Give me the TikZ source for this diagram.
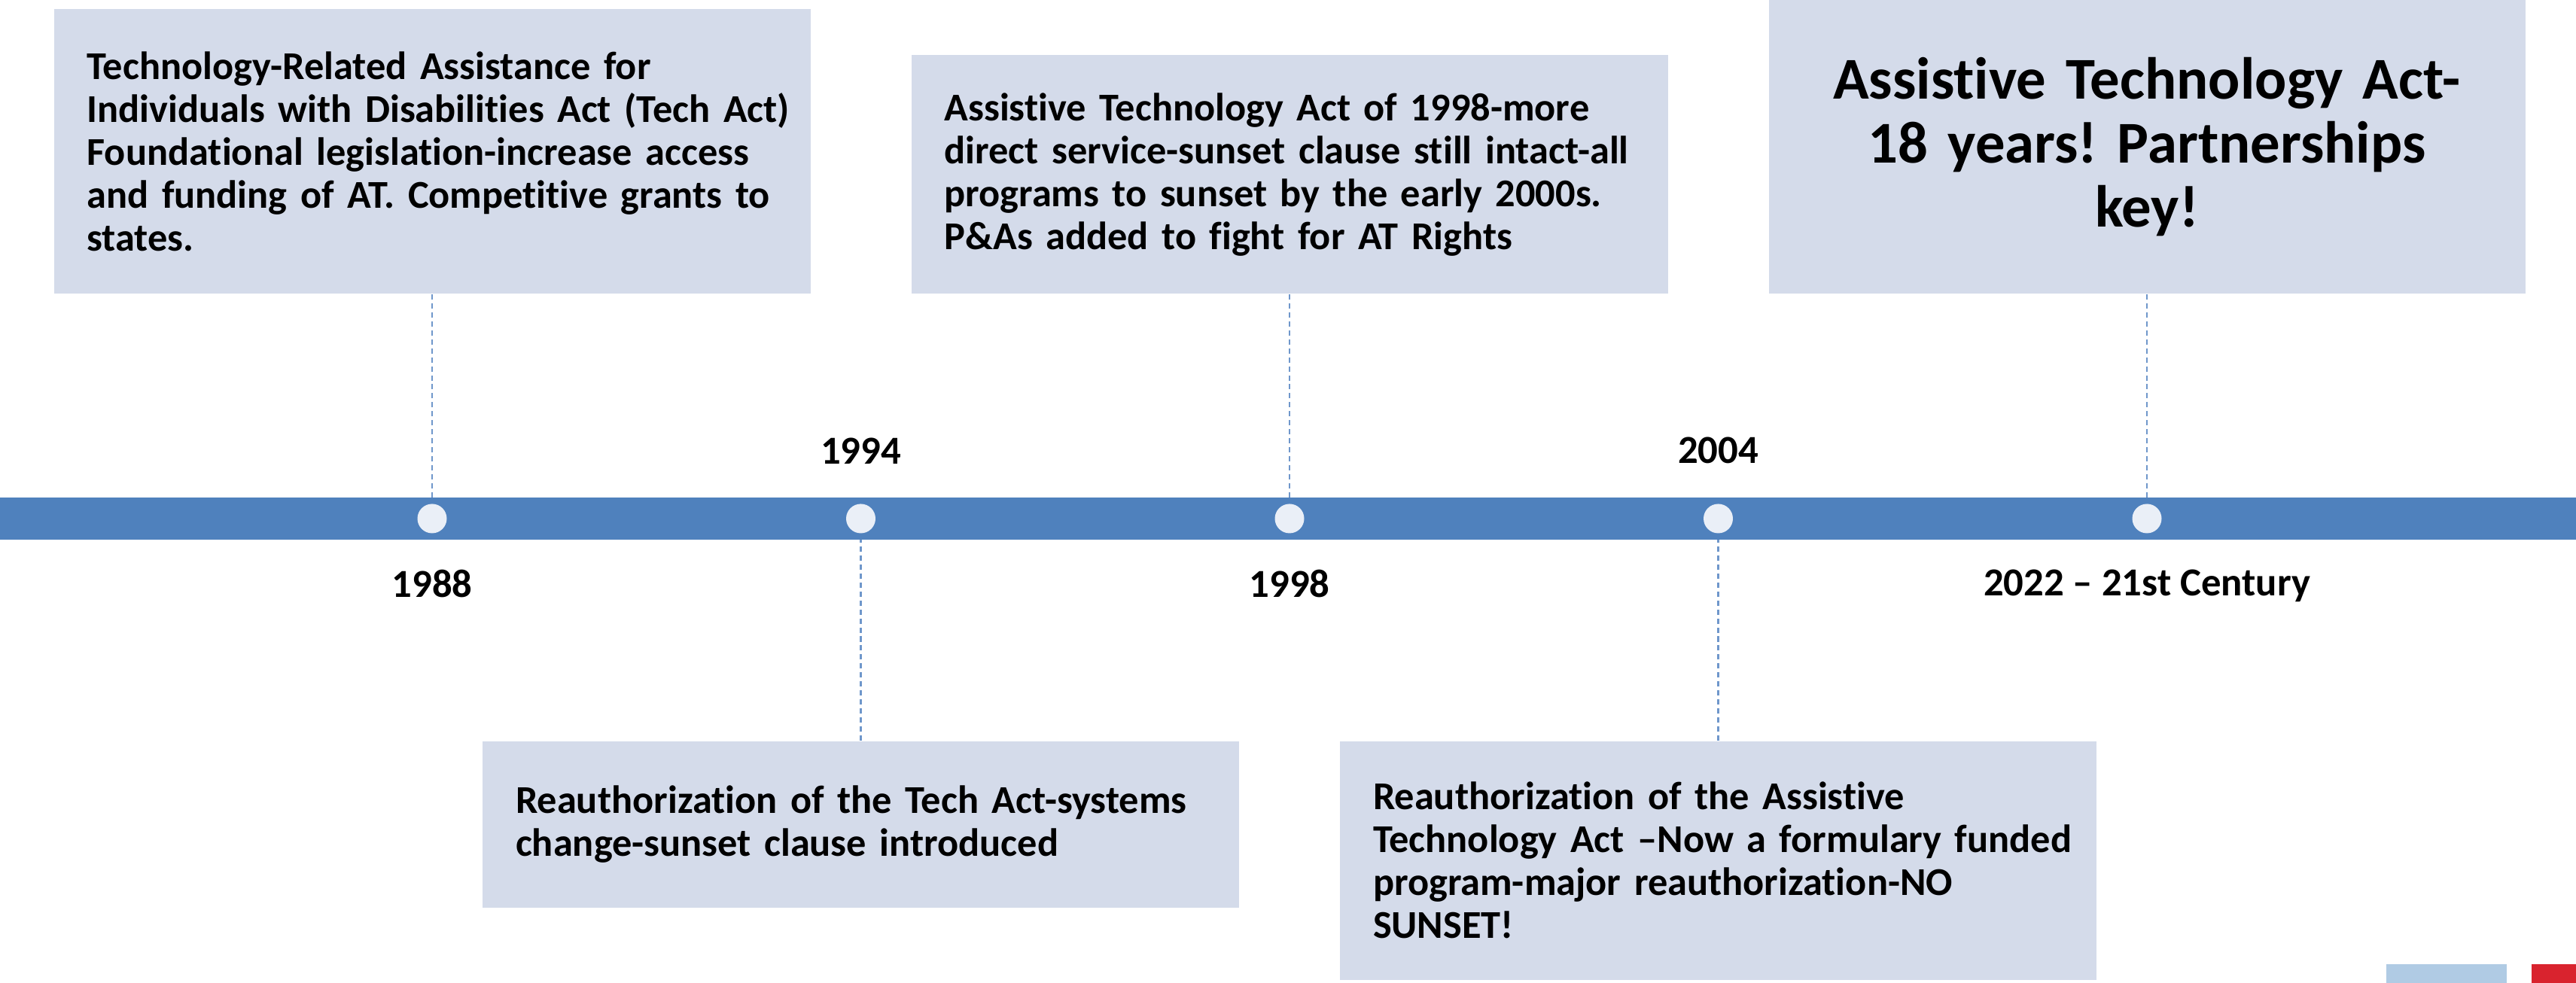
\documentclass[tikz,border=0pt]{standalone}
\usepackage{fontspec}
\setmainfont{Carlito}[Ligatures={TeX,NoCommon}]
\usepackage{tikz}
\usetikzlibrary{positioning}
\definecolor{barblue}{HTML}{4F81BD}
\definecolor{boxfill}{HTML}{D4DBEA}
\definecolor{dotfill}{HTML}{EAEFF7}
\definecolor{linkblue}{HTML}{6F97CB}
\definecolor{tabblue}{HTML}{B0CBE4}
\definecolor{tabred}{HTML}{D9232E}
\frenchspacing

\begin{document}
\begin{tikzpicture}[node distance=5.695cm,
	panel/.style={fill=boxfill,minimum height=#1,text width=10.05cm,inner xsep=0pt},
	event/.style={panel=#1,align=left,font=\fontsize{14.9}{16.2}\selectfont\bfseries,execute at begin node={\leftskip=0.44cm\relax}},
	event/.default=3.17cm,
	tick/.style={circle,fill=dotfill,minimum size=0.39cm,inner sep=0pt},
	year/.style={inner sep=0pt,font=\fontsize{15}{18}\selectfont\bfseries},
	link/.style={draw=linkblue,line width=0.7pt,dash pattern=on 2pt off 1.4pt}]
			\useasboundingbox (0,0) rectangle (34.22,13.06);
			\coordinate (t1) at (5.74,6.17);
			\coordinate[right=of t1] (t2);
			\coordinate[right=of t2] (t3);
			\coordinate[right=of t3] (t4);
			\coordinate[right=of t4] (t5);

			\node[event=3.78cm,above=2.98cm of t1] (b1) {Technology-Related Assistance for\\Individuals with Disabilities Act (Tech Act)\\Foundational legislation-increase access\\and funding of AT. Competitive grants to\\states.};
			\node[event=2.21cm,below=2.95cm of t2] (b2) {Reauthorization of the Tech Act-systems\\change-sunset clause introduced};
			\node[event,above=2.98cm of t3] (b3) {Assistive Technology Act of 1998-more\\direct service-sunset clause still intact-all\\programs to sunset by the early 2000s.\\P\&As added to fight for AT Rights};
			\node[event,below=2.95cm of t4] (b4) {Reauthorization of the Assistive\\Technology Act --Now a formulary funded\\program-major reauthorization-NO\\SUNSET!};
			\node[panel=3.91cm,above=2.98cm of t5,align=center,font=\fontsize{22.4}{24.2}\selectfont\bfseries] (b5) {Assistive Technology Act-\\18 years! Partnerships\\key!};

			\draw[link] (b1) -- (t1) (b2) -- (t2) (b3) -- (t3) (b4) -- (t4) (b5) -- (t5);

			% timeline
			\fill[barblue] (0,5.89) rectangle (34.22,6.45);
			\foreach \i in {1,...,5}
				\node[tick] (d\i) at (t\i) {};

			\node[year,below=0.47cm of d1] (y1) {1988};
			\node[year,above=0.52cm of d2] (y2) {1994};
			\node[year,below=0.47cm of d3] (y3) {1998};
			\node[year,above=0.52cm of d4] (y4) {2004};
			\node[year,below=0.47cm of d5] (y5) {2022 -- 21st Century};

			\fill[tabblue] (31.70,0) rectangle (33.30,0.25);
			\fill[tabred] (33.63,0) rectangle (34.22,0.25);
			\end{tikzpicture}
\end{document}
